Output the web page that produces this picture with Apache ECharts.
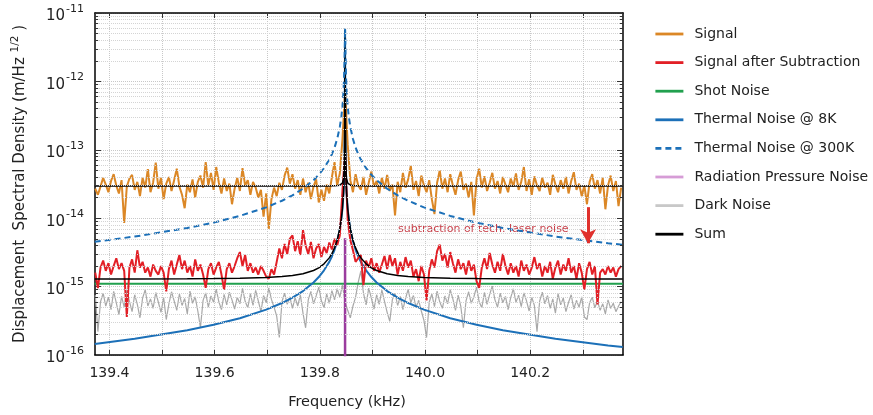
<!DOCTYPE html>
<html><head><meta charset="utf-8">
<script src="https://cdn.jsdelivr.net/npm/echarts@6/dist/echarts.min.js"></script>
<style>html,body{margin:0;padding:0;background:#fff}#c{width:873px;height:415px}</style>
</head><body><div id="c"></div>
<script>
// ---------- data ----------
// measured spectra: uniform frequency grid (kHz)
const specStart = 139.373, specStep = 0.005;
// Signal, units of 1e-14 m/Hz^1/2
const signalUnit = 1e-14;
const signal = [
2.7,2.2,2.9,3.9,3.1,2.4,3.5,4.4,3.0,2.3,
3.6,0.85,2.9,3.8,4.3,2.6,3.4,2.1,3.9,2.8,
5.2,2.4,3.3,6.5,2.7,3.9,1.9,3.2,4.0,2.5,
3.6,5.3,2.9,2.2,1.4,3.1,2.4,3.7,2.0,3.4,
4.2,2.8,6.6,3.0,4.6,2.6,5.6,3.3,2.3,3.8,
2.5,3.2,1.6,2.7,3.9,2.5,5.4,3.0,3.6,2.2,
3.4,2.8,2.0,2.6,1.05,2.3,0.7,1.9,2.8,2.1,
3.3,2.6,4.2,5.5,3.2,4.4,2.7,3.6,2.2,3.8,
2.4,3.3,1.9,2.9,3.7,1.7,2.6,1.8,3.1,2.3,
4.0,6.6,3.0,4.5,14,70,12,3.6,2.4,4.4,
3.0,2.6,4.0,2.2,3.3,4.8,2.9,3.5,2.3,3.9,
2.7,4.3,2.5,3.1,1.1,3.4,2.4,4.6,2.8,3.7,
5.8,2.6,3.5,2.1,4.2,3.0,2.4,3.6,1.9,1.15,
3.3,5.0,2.7,3.8,2.4,4.4,3.0,2.2,3.6,4.8,
2.6,3.2,2.0,3.4,1.1,3.7,5.3,2.8,4.1,2.5,
3.3,4.6,2.7,3.5,2.3,4.0,3.1,2.4,3.8,2.9,
4.5,2.6,3.4,5.6,2.5,3.7,2.2,4.1,3.0,2.5,
3.9,2.8,3.3,2.2,4.3,3.1,2.4,3.6,2.7,4.0,
2.3,3.5,4.7,2.6,3.2,2.1,3.0,1.6,3.4,4.4,
2.7,3.6,2.3,3.9,1.35,3.0,4.2,2.5,3.5,1.5,
2.8];
// Signal after Subtraction, units of 1e-15
const subtractedUnit = 1e-15;
const subtracted = [
1.6,0.95,1.9,2.4,1.7,2.2,1.5,2.0,2.6,1.8,
2.2,1.7,0.36,1.9,2.5,1.6,3.4,1.9,2.3,1.6,
1.9,1.4,2.1,1.7,1.5,2.0,1.6,0.85,1.8,2.4,
1.5,2.1,2.9,1.8,2.4,1.6,2.0,1.4,2.5,1.7,
2.1,1.5,0.96,1.8,2.2,1.5,1.9,2.3,1.5,0.9,
1.8,2.2,1.6,2.0,2.6,3.2,2.0,2.9,1.7,2.2,
1.6,1.9,1.5,2.0,1.7,1.4,1.3,1.8,1.5,2.3,
3.6,2.6,4.2,3.0,5.0,5.6,3.3,4.6,2.9,6.7,
4.0,3.0,4.5,2.6,3.6,4.2,2.7,3.8,3.1,4.4,
3.5,5.0,4.0,5.6,25,90,9.5,4.8,3.4,2.3,
2.6,2.9,1.05,2.4,1.9,2.6,1.7,2.2,1.6,2.1,
2.8,1.8,2.9,2.0,2.6,1.5,2.3,1.7,2.7,1.9,
2.4,1.4,1.8,1.2,2.0,1.5,0.63,1.7,2.5,1.9,
3.3,4.1,2.4,3.0,1.9,3.2,2.2,1.6,2.5,1.8,
2.2,1.5,2.4,1.7,2.1,1.2,0.96,1.9,2.6,1.8,
3.1,2.1,1.6,2.3,1.7,3.0,2.0,1.5,2.2,1.6,
2.0,1.4,2.4,1.7,2.1,1.5,1.9,2.7,1.8,2.2,
1.4,2.0,1.6,2.3,1.3,1.9,2.4,1.5,2.1,1.7,
2.6,1.6,2.0,1.3,2.2,1.6,0.9,1.8,2.3,1.5,
2.0,0.55,1.6,1.8,1.5,2.0,1.6,1.9,1.4,1.8,
2.0];
// Dark Noise, units of 1e-16
const darkUnit = 1e-16;
const dark = [
7.5,2.2,6.0,8.0,5.2,7.0,4.6,8.5,5.8,3.9,
7.2,5.0,8.8,6.1,4.3,7.6,5.5,3.5,6.8,9.0,
5.2,6.6,4.8,8.2,5.9,4.2,6.9,3.3,5.6,8.4,
6.2,4.5,7.8,5.3,6.7,4.0,8.6,5.7,7.1,4.4,
2.5,6.3,8.1,5.0,7.3,5.9,9.2,6.0,4.6,7.7,
5.4,8.3,6.4,4.7,7.0,5.6,9.4,6.1,4.9,7.9,
5.3,8.8,6.2,4.3,7.4,5.8,9.6,6.5,5.0,3.7,
1.8,6.0,8.0,5.5,7.1,4.8,6.9,5.2,7.6,4.1,
2.5,6.4,8.5,5.6,7.3,9.8,6.2,4.9,7.8,5.7,
8.7,6.4,9.3,7.0,10.5,6.0,4.5,3.5,5.2,7.0,
11.5,17,8.0,5.4,9.5,6.8,4.7,7.6,5.5,8.9,
6.1,4.2,3.1,6.5,8.0,5.3,7.2,4.6,6.7,9.1,
5.8,7.4,5.0,6.3,4.4,3.2,1.8,5.9,7.8,5.1,
8.6,6.0,4.8,7.3,5.6,9.0,6.6,4.5,7.5,5.2,
2.5,6.2,8.4,5.7,7.1,9.8,6.0,4.9,8.2,5.5,
7.7,10.2,6.4,5.0,8.0,5.8,7.2,4.6,6.9,9.3,
5.9,7.5,5.1,8.1,6.2,4.4,7.0,5.3,2.2,6.1,
8.3,5.6,7.4,4.8,6.6,4.1,7.9,5.4,6.8,4.3,
5.9,7.6,4.7,6.3,5.0,7.1,3.6,3.3,5.8,7.0,
4.9,6.2,4.5,5.6,4.0,6.4,4.8,5.7,4.3,5.2,
6.0];

// model curves: frequencies (kHz)
const modelFreq = [139.372,139.448,139.548,139.598,139.648,139.698,139.728,139.748,139.768,139.788,
139.798,139.808,139.818,139.823,139.828,139.833,139.838,139.841,139.843,139.845,
139.846,139.847,139.848,139.849,139.850,139.851,139.853,139.855,139.858,139.863,
139.868,139.873,139.878,139.888,139.898,139.908,139.928,139.948,139.968,139.998,
140.048,140.098,140.148,140.248,140.348,140.376];
// Thermal Noise @ 8K, units of 1e-16
const thermal8KUnit = 1e-16;
const thermal8K = [1.45,1.73,2.3,2.76,3.45,4.6,5.75,6.9,8.6,11.5,
13.8,17.3,23,27.6,34.5,46,69,99,138,230,
345,690,56000,690,345,230,138,99,69,46,
34.5,27.6,23,17.3,13.8,11.5,8.6,6.9,5.75,4.6,
3.45,2.76,2.3,1.73,1.38,1.31];
// Thermal Noise @ 300K, units of 1e-15
const thermal300KUnit = 1e-15;
const thermal300K = [4.53,5.39,7.19,8.62,10.8,14.4,18.0,21.6,27.0,35.9,
43.1,53.9,71.9,86.2,108,144,216,308,431,719,
1078,2156,6000,2156,1078,719,431,308,216,144,
108,86.2,71.9,53.9,43.1,35.9,27.0,21.6,18.0,14.4,
10.8,8.62,7.19,5.39,4.31,4.08];
// Sum (before subtraction), units of 1e-15
const sumUnit = 1e-15;
const sumUpper = [29.6,29.6,29.6,29.6,29.6,29.6,29.6,29.6,29.6,29.6,
29.6,29.6,29.6,29.7,29.8,30.0,30.4,31.2,32.7,37.5,
45.5,75,5600,75,45.5,37.5,32.7,31.2,30.4,30.0,
29.8,29.7,29.7,29.6,29.6,29.6,29.6,29.6,29.6,29.6,
29.6,29.6,29.6,29.6,29.6,29.6];
// Sum (after subtraction), units of 1e-15
const sumLower = [1.29,1.29,1.30,1.31,1.33,1.36,1.40,1.45,1.54,1.72,
1.88,2.15,2.63,3.04,3.68,4.77,7.02,9.94,13.9,23.0,
34.5,69,5600,69,34.5,23.0,13.9,9.94,7.02,4.77,
3.68,3.04,2.63,2.15,1.88,1.72,1.54,1.45,1.40,1.36,
1.33,1.31,1.30,1.29,1.29,1.29];
// Shot Noise
const shotFreq = [139.372, 140.376];
const shotNoise = [1.1e-15, 1.1e-15];
// Radiation Pressure Noise (narrow line at resonance)
const radFreq = [139.848, 139.848];
const radNoise = [1e-17, 5.1e-15];
// annotation arrow
const arrowFreq = 140.31, arrowFrom = 1.45e-14, arrowTo = 4.3e-15;

// axes
const xMin = 139.3725, xMax = 140.3765;
const xLabelValues = [139.4, 139.6, 139.8, 140.0, 140.2];
const xTickValues = [139.4, 139.5, 139.6, 139.7, 139.8, 139.9, 140.0, 140.1, 140.2, 140.3];
const yMin = 1e-16, yMax = 1e-11;
const minorMult = [2,3,4,5,6,7,8,9];
const decades = [1e-16, 1e-15, 1e-14, 1e-13, 1e-12];

// ---------- build ----------
const specFreq = signal.map((_, i) => +(specStart + i * specStep).toFixed(3));
const zipU = (xs, ys, u) => ys.map((v, i) => [xs[i], v * u]);
const minorVals = [];
decades.forEach(d => minorMult.forEach(m => minorVals.push(m * d)));

const FONT = 'DejaVu Sans';
const TXT = '#222';
const C = {
  signal: '#DB8726', red: '#E21F26', green: '#21A04E', blue: '#1C70B8',
  purple: '#9B3C9E', gray: '#A8A8A8', black: '#000'
};

function line(name, data, color, width, extra) {
  return Object.assign({
    name, type: 'line', data, symbol: 'none', showSymbol: false,
    lineStyle: { color, width }, itemStyle: { color }, animation: false,
    emphasis: { disabled: true }, silent: true
  }, extra || {});
}

const gridLines = minorVals.map(v => [{ coord: [xMin, v] }, { coord: [xMax, v] }]);
const minorTicks = [];
minorVals.forEach(v => {
  minorTicks.push([{ coord: [xMin, v] }, { coord: [xMin + 0.006, v] }]);
  minorTicks.push([{ coord: [xMax - 0.006, v] }, { coord: [xMax, v] }]);
});

const hideSym = { opacity: 0 };
const LW = 2.8;
const option = {
  animation: false,
  textStyle: { fontFamily: FONT },
  grid: { left: 95, right: 250, top: 13, bottom: 60, containLabel: false },
  legend: {
    orient: 'vertical', left: 649, top: 22, itemWidth: 28, itemHeight: 14, itemGap: 14.6,
    itemStyle: hideSym, lineStyle: { width: LW },
    textStyle: { fontSize: 14, color: TXT, fontFamily: FONT, padding: [0, 0, 0, 6] },
    data: [
      { name: 'Signal', itemStyle: hideSym, lineStyle: { width: LW } },
      { name: 'Signal after Subtraction', itemStyle: hideSym, lineStyle: { width: LW } },
      { name: 'Shot Noise', itemStyle: hideSym, lineStyle: { width: LW } },
      { name: 'Thermal Noise @ 8K', itemStyle: hideSym, lineStyle: { width: LW } },
      { name: 'Thermal Noise @ 300K', itemStyle: hideSym, lineStyle: { width: LW } },
      { name: 'Radiation Pressure Noise', itemStyle: { opacity: 0 }, lineStyle: { color: '#D69CD6', width: LW } },
      { name: 'Dark Noise', itemStyle: { opacity: 0 }, lineStyle: { color: '#C8C8C8', width: LW } },
      { name: 'Sum', itemStyle: hideSym, lineStyle: { width: LW } }
    ]
  },
  xAxis: [{
    type: 'value', min: xMin, max: xMax, position: 'bottom',
    name: 'Frequency (kHz)', nameLocation: 'middle', nameGap: 40,
    nameTextStyle: { fontSize: 14.5, color: TXT, fontFamily: FONT, padding: [0, 24, 0, 0] },
    axisLine: { show: true, onZero: false, lineStyle: { color: '#000', width: 1.5 } },
    axisTick: { show: true, inside: true, length: 5, customValues: xTickValues, lineStyle: { color: '#333', width: 1 } },
    axisLabel: { show: true, customValues: xLabelValues, margin: 11, fontSize: 14, color: TXT, fontFamily: FONT,
      formatter: v => v.toFixed(1) },
    splitLine: { show: true, lineStyle: { type: 'dotted', color: '#c8c8c8', width: 1 } }
  }, {
    type: 'value', min: xMin, max: xMax, position: 'top',
    axisLine: { show: true, onZero: false, lineStyle: { color: '#000', width: 1.5 } },
    axisTick: { show: true, inside: true, length: 5, customValues: xTickValues, lineStyle: { color: '#333', width: 1 } },
    axisLabel: { show: false }, splitLine: { show: false }
  }],
  yAxis: [{
    type: 'log', logBase: 10, min: yMin, max: yMax, splitNumber: 5, position: 'left',
    name: '{n|Displacement  Spectral Density (m/Hz }{s|1/2}{n| )}', nameLocation: 'middle', nameGap: 65,
    nameRotate: 90,
    nameTextStyle: { rich: {
      n: { fontSize: 15, color: TXT, fontFamily: FONT },
      s: { fontSize: 10.5, color: TXT, fontFamily: FONT, padding: [0, 0, 9, 0] }
    } },
    axisLine: { show: true, onZero: false, lineStyle: { color: '#000', width: 1.5 } },
    axisTick: { show: true, inside: true, length: 6, lineStyle: { color: '#333', width: 1 } },
    axisLabel: { show: true, margin: 11, formatter: v => '{b|10}{e|' + Math.round(Math.log10(v)) + '}',
      rich: {
        b: { fontSize: 15, color: TXT, fontFamily: FONT, padding: [7, 0, 0, 0] },
        e: { fontSize: 11, color: TXT, fontFamily: FONT, padding: [0, 0, 8, 1] }
      } },
    splitLine: { show: true, lineStyle: { type: 'dotted', color: '#c8c8c8', width: 1 } }
  }, {
    type: 'log', logBase: 10, min: yMin, max: yMax, splitNumber: 5, position: 'right',
    axisLine: { show: true, onZero: false, lineStyle: { color: '#000', width: 1.5 } },
    axisTick: { show: true, inside: true, length: 6, lineStyle: { color: '#333', width: 1 } },
    axisLabel: { show: false }, splitLine: { show: false }
  }],
  graphic: [{
    type: 'group', z: 50, silent: true,
    children: [
      { type: 'rect', shape: { x: 386, y: 216, width: 218, height: 26 },
        style: { fill: 'rgba(255,255,255,0.85)', shadowBlur: 3, shadowColor: 'rgba(0,0,0,0.08)' } },
      { type: 'text', x: 398, y: 229,
        style: { text: 'subtraction of tech. laser noise', fill: '#C8404A', font: '11px "DejaVu Sans"',
          verticalAlign: 'middle', align: 'left' } }
    ]
  }],
  series: [
    line('_grid', [], '#ccc', 1, { z: 1, markLine: { silent: true, symbol: 'none', animation: false,
      label: { show: false }, lineStyle: { type: 'dotted', color: '#d4d4d4', width: 1 }, data: gridLines } }),
    line('Dark Noise', zipU(specFreq, dark, darkUnit), C.gray, 1.2),
    line('Shot Noise', shotFreq.map((f, i) => [f, shotNoise[i]]), C.green, 2),
    line('Thermal Noise @ 8K', zipU(modelFreq, thermal8K, thermal8KUnit), C.blue, 2),
    line('Signal', zipU(specFreq, signal, signalUnit), C.signal, 2),
    line('Signal after Subtraction', zipU(specFreq, subtracted, subtractedUnit), C.red, 2),
    line('Sum', zipU(modelFreq, sumUpper, sumUnit), C.black, 1.5),
    line('Sum', zipU(modelFreq, sumLower, sumUnit), C.black, 1.5),
    line('Thermal Noise @ 300K', zipU(modelFreq, thermal300K, thermal300KUnit), C.blue, 2,
      { lineStyle: { color: C.blue, width: 2, type: [6, 4] } }),
    line('Radiation Pressure Noise', radFreq.map((f, i) => [f, radNoise[i]]), C.purple, 2.5),
    line('_ticks', [], '#333', 1, { z: 5, markLine: { silent: true, symbol: 'none', animation: false,
      label: { show: false }, lineStyle: { type: 'solid', color: '#333', width: 1 }, data: minorTicks } }),
    line('_arrow', [], C.red, 3, { z: 60, markLine: { silent: true, symbol: ['none', 'arrow'], symbolSize: [12, 14],
      animation: false, label: { show: false }, lineStyle: { type: 'solid', color: '#E0302C', width: 3 },
      data: [[{ coord: [arrowFreq, arrowFrom] }, { coord: [arrowFreq, arrowTo] }]] } })
  ]
};

const chart = echarts.init(document.getElementById('c'), null, { renderer: 'canvas' });
chart.setOption(option);
</script>
</body></html>
